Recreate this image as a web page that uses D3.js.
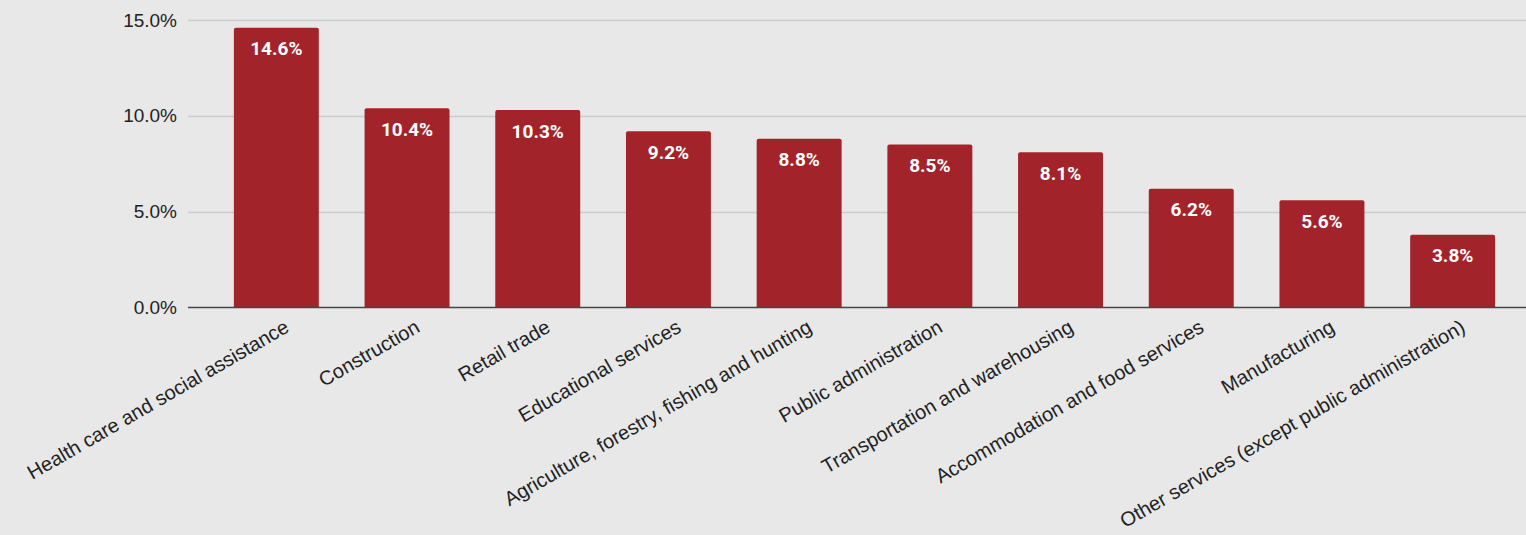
<!DOCTYPE html>
<html>
<head>
<meta charset="utf-8">
<script src="https://cdn.jsdelivr.net/npm/d3@7"></script>
<style>
  html, body { margin: 0; padding: 0; background: #e8e8e8; }
  svg { display: block; }
</style>
</head>
<body>
<svg id="chart" width="1526" height="535"></svg>
<script>
// Share of workers by industry
const categories = [
  "Health care and social assistance",
  "Construction",
  "Retail trade",
  "Educational services",
  "Agriculture, forestry, fishing and hunting",
  "Public administration",
  "Transportation and warehousing",
  "Accommodation and food services",
  "Manufacturing",
  "Other services (except public administration)"
];
const values = [14.6, 10.4, 10.3, 9.2, 8.8, 8.5, 8.1, 6.2, 5.6, 3.8];
const yTicks = [0, 5, 10, 15];

const svg = d3.select("#chart");
const W = 1526, H = 535;

svg.append("rect").attr("width", W).attr("height", H).attr("fill", "#e8e8e8");

const plotLeft = 188, plotRight = 1526;
const x = d3.scaleBand()
  .domain(categories)
  .range([211, 1518])
  .paddingInner(0.35)
  .paddingOuter(0.175);

const y = d3.scaleLinear().domain([0, 15]).range([307.5, 20]);

// gridlines
svg.append("g")
  .selectAll("line")
  .data(yTicks.filter(d => d !== 0))
  .join("line")
  .attr("x1", plotLeft).attr("x2", plotRight)
  .attr("y1", d => Math.round(y(d)) + 0.5).attr("y2", d => Math.round(y(d)) + 0.5)
  .attr("stroke", "#cccccc").attr("stroke-width", 1.5);

// y axis labels
const yAxis = d3.axisLeft(y).tickValues(yTicks).tickFormat(d => d3.format(".1f")(d) + "%").tickSize(0).tickPadding(0);
const gy = svg.append("g").attr("transform", `translate(177,0)`).call(yAxis);
gy.select(".domain").remove();
gy.selectAll("text")
  .attr("font-family", "'Liberation Sans', Arial, sans-serif")
  .attr("font-size", 19)
  .attr("fill", "#222");

// bars
const r = 2;
svg.append("g")
  .selectAll("path")
  .data(values)
  .join("path")
  .attr("d", (d, i) => {
    const x0 = x(categories[i]), w = x.bandwidth();
    const yt = y(d), yb = y(0);
    return `M${x0},${yb}V${yt + r}Q${x0},${yt} ${x0 + r},${yt}H${x0 + w - r}Q${x0 + w},${yt} ${x0 + w},${yt + r}V${yb}Z`;
  })
  .attr("fill", "#a2242a");

// baseline
svg.append("line")
  .attr("x1", plotLeft).attr("x2", plotRight)
  .attr("y1", y(0)).attr("y2", y(0))
  .attr("stroke", "#444").attr("stroke-width", 1.5);

// value labels
svg.append("g")
  .selectAll("text")
  .data(values)
  .join("text")
  .attr("x", (d, i) => x(categories[i]) + x.bandwidth() / 2)
  .attr("y", d => y(d) + 27.5)
  .attr("text-anchor", "middle")
  .attr("font-family", "Roboto, sans-serif")
  .attr("font-weight", "bold")
  .attr("font-size", 19)
  .attr("fill", "#ffffff")
  .text(d => d.toFixed(1) + "%");

// category labels, rotated
svg.append("g")
  .selectAll("text")
  .data(categories)
  .join("text")
  .attr("transform", d => `translate(${x(d) + x.bandwidth() / 2 + 14},331) rotate(-30)`)
  .attr("text-anchor", "end")
  .attr("font-family", "'Liberation Sans', Arial, sans-serif")
  .attr("font-size", 20)
  .attr("fill", "#222")
  .text(d => d);
</script>
</body>
</html>
